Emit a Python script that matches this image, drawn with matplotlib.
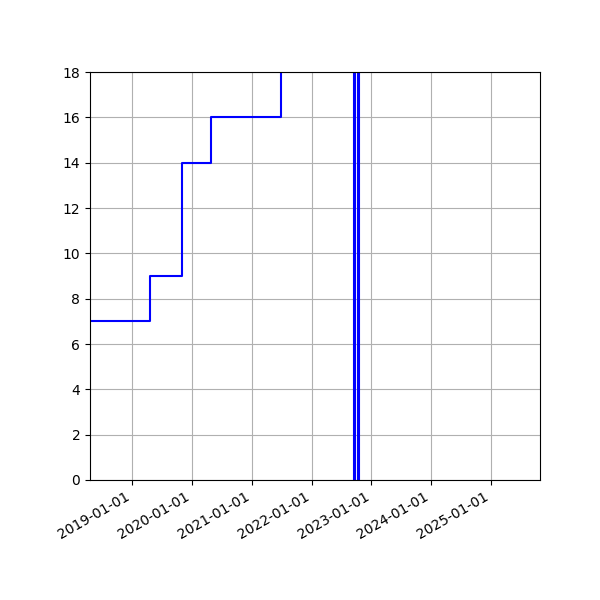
import numpy as np
import pandas as pd
import matplotlib
matplotlib.use('Agg')
import matplotlib.pyplot as plt
import matplotlib.dates as mdates

# step data (post): value holds from date until next date
dates = pd.to_datetime([
    '2018-01-01', '2019-04-19', '2019-10-30', '2020-04-26',
    '2021-06-28', '2022-09-17', '2022-09-24', '2022-10-10',
    '2022-10-17', '2025-12-31',
])
values = [7, 9, 14, 16, 24, -3, 24, -3, 24, 24]

xmin = pd.Timestamp('2018-04-18')
xmax = pd.Timestamp('2025-10-27')

fig, ax = plt.subplots(figsize=(6, 6), dpi=100)
ax.step(dates, values, where='post', color='blue', lw=1.5)

ax.set_xlim(xmin, xmax)
ax.set_ylim(0, 18)
ax.set_yticks(np.arange(0, 19, 2))
ax.xaxis.set_major_locator(mdates.YearLocator())
ax.xaxis.set_major_formatter(mdates.DateFormatter('%Y-%m-%d'))
ax.grid(True)
fig.autofmt_xdate()
plt.subplots_adjust(left=0.15, right=0.9, top=0.88, bottom=0.2)

fig.savefig('out.png', dpi=100)
